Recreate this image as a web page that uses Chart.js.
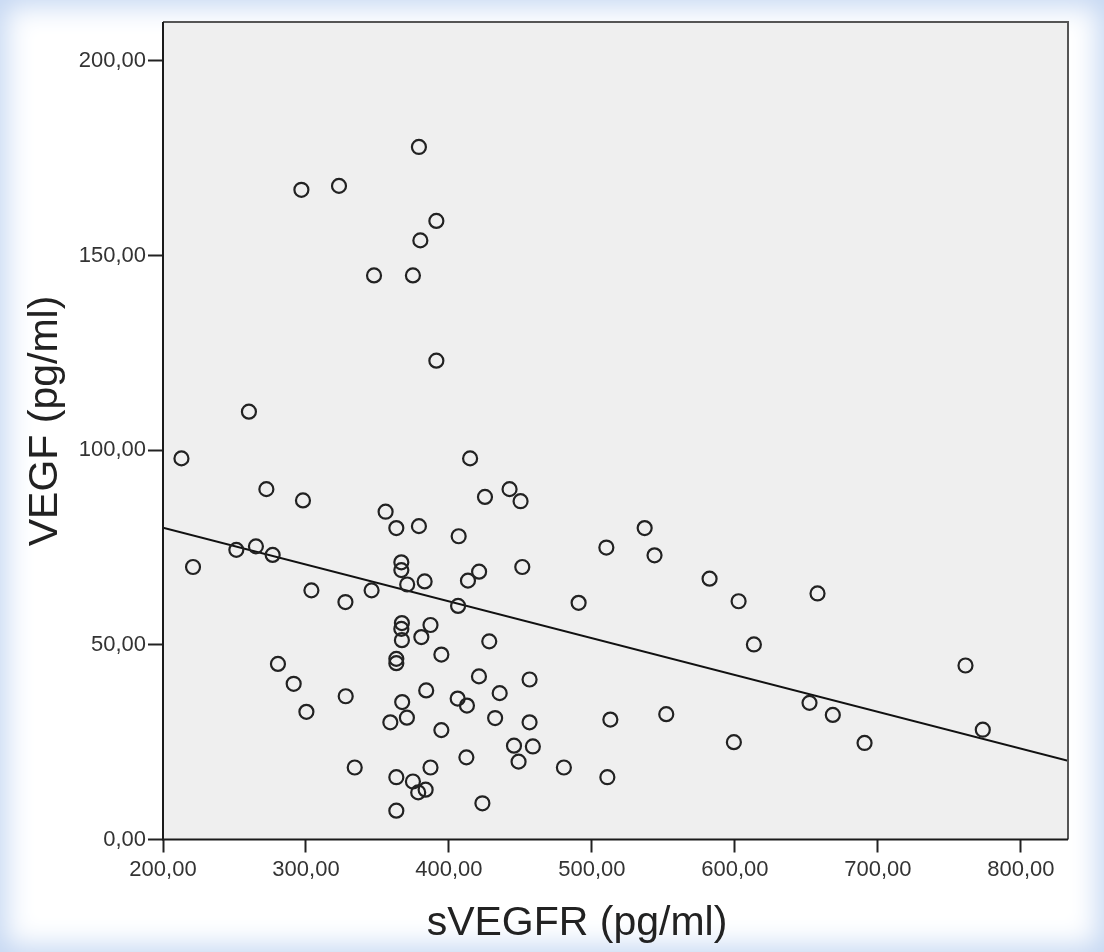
<!DOCTYPE html>
<html>
<head>
<meta charset="utf-8">
<title>sVEGFR vs VEGF</title>
<script src="https://cdn.jsdelivr.net/npm/chart.js@4.4.1/dist/chart.umd.min.js"></script>
<style>
    html, body {
        margin: 0;
        padding: 0;
        background: #ffffff;
    }
    .frame {
        position: relative;
        width: 1104px;
        height: 952px;
        background: #ffffff;
        box-shadow: inset 0 0 28px 6px #c3d6f2;
    }
    #scatterChart {
        position: absolute;
        left: 0;
        top: 0;
    }
</style>
</head>
<body>
<div class="frame">
    <canvas id="scatterChart" width="1104" height="952"></canvas>
</div>
<script>
// sVEGFR (x) and VEGF (y) per subject, pg/ml
const svegfr = [
    379.0, 296.8, 323.1, 391.2, 380.0, 347.6, 374.8, 391.2, 260.1, 212.9,
    414.8, 272.3, 297.9, 425.2, 442.4, 450.1, 355.7, 363.2, 379.0, 406.8,
    536.9, 510.1, 543.8, 251.3, 265.0, 276.7, 221.0, 366.7, 366.7, 370.8,
    383.0, 421.1, 413.3, 451.3, 303.8, 327.6, 345.9, 406.4, 490.7, 582.3,
    602.6, 657.8, 613.3, 367.1, 366.7, 367.1, 387.1, 380.7, 428.2, 394.7,
    363.2, 363.2, 280.4, 291.4, 327.8, 300.3, 421.0, 456.4, 384.1, 435.5,
    367.3, 406.1, 412.6, 370.6, 359.0, 432.3, 456.4, 512.9, 552.0, 652.2,
    668.5, 394.7, 599.3, 445.5, 458.7, 448.7, 412.2, 387.1, 480.4, 510.8,
    363.2, 374.8, 378.5, 383.7, 423.4, 363.2, 761.3, 773.4, 690.7, 334.1
];
const vegf = [
    177.9, 166.9, 167.9, 158.9, 153.9, 144.9, 144.9, 123.0, 109.9, 97.9,
    97.9, 90.0, 87.1, 88.0, 90.0, 86.9, 84.2, 80.0, 80.5, 77.9,
    80.0, 75.0, 73.0, 74.4, 75.3, 73.1, 70.0, 71.2, 69.2, 65.5,
    66.3, 68.8, 66.5, 70.0, 64.0, 61.0, 64.0, 60.0, 60.8, 67.0,
    61.2, 63.2, 50.1, 55.6, 54.1, 51.2, 55.1, 52.0, 50.9, 47.5,
    46.4, 45.3, 45.1, 40.0, 36.8, 32.8, 41.9, 41.1, 38.3, 37.6,
    35.3, 36.2, 34.4, 31.3, 30.1, 31.2, 30.1, 30.8, 32.2, 35.1,
    32.0, 28.1, 25.0, 24.1, 23.9, 20.0, 21.1, 18.5, 18.5, 16.0,
    16.0, 14.9, 12.1, 12.8, 9.3, 7.4, 44.7, 28.2, 24.8, 18.5
];

// linear fit line, end points
const fitX = [200, 833];
const fitY = [80.1, 20.2];

// axis ticks
const xTicks = [200, 300, 400, 500, 600, 700, 800];
const yTicks = [0, 50, 100, 150, 200];

const xTitle = 'sVEGFR (pg/ml)';
const yTitle = 'VEGF (pg/ml)';

const FONT = '"Liberation Sans", Arial, sans-serif';

function fmt(v) {
    return v.toFixed(2).replace('.', ',');
}

// grey plot background + dark frame round the chart area
const plotFrame = {
    id: 'plotFrame',
    beforeDatasetsDraw(chart) {
        const { ctx, chartArea: a } = chart;
        ctx.save();
        ctx.fillStyle = '#efefef';
        ctx.fillRect(a.left, a.top, a.right - a.left, a.bottom - a.top);
        ctx.restore();
    },
    afterDatasetsDraw(chart) {
        const { ctx, chartArea: a } = chart;
        ctx.save();
        ctx.lineWidth = 2;
        ctx.strokeStyle = '#555';
        ctx.beginPath();
        ctx.moveTo(a.left, a.top);
        ctx.lineTo(a.right, a.top);
        ctx.lineTo(a.right, a.bottom);
        ctx.stroke();
        ctx.strokeStyle = '#1a1a1a';
        ctx.beginPath();
        ctx.moveTo(a.left, a.top);
        ctx.lineTo(a.left, a.bottom);
        ctx.lineTo(a.right, a.bottom);
        ctx.stroke();
        ctx.restore();
    }
};

// axis titles, placed a bit off-centre like the SPSS output
const axisTitles = {
    id: 'axisTitles',
    afterDraw(chart) {
        const { ctx } = chart;
        ctx.save();
        ctx.fillStyle = '#222';
        ctx.font = '41px ' + FONT;
        ctx.textAlign = 'center';
        ctx.textBaseline = 'middle';
        ctx.fillText(xTitle, 577, 924);
        ctx.translate(46, 421);
        ctx.rotate(-Math.PI / 2);
        ctx.fillText(yTitle, 0, 0);
        ctx.restore();
    }
};

document.addEventListener('DOMContentLoaded', function() {
    const points = svegfr.map((x, i) => ({ x: x, y: vegf[i] }));
    const fitLine = fitX.map((x, i) => ({ x: x, y: fitY[i] }));

    const ctx = document.getElementById('scatterChart').getContext('2d');
    new Chart(ctx, {
        type: 'scatter',
        data: {
            datasets: [{
                label: 'VEGF',
                data: points,
                pointStyle: 'circle',
                pointRadius: 7,
                pointBorderWidth: 2.2,
                pointBorderColor: '#222',
                pointBackgroundColor: 'rgba(0,0,0,0)',
                showLine: false
            },
            {
                label: 'Fit',
                type: 'line',
                data: fitLine,
                borderColor: '#111',
                borderWidth: 2,
                pointRadius: 0,
                fill: false,
                tension: 0
            }]
        },
        options: {
            responsive: false,
            animation: false,
            devicePixelRatio: 1,
            layout: {
                padding: { top: 22, right: 36, bottom: 0, left: 0 }
            },
            plugins: {
                legend: { display: false },
                tooltip: { enabled: false }
            },
            scales: {
                x: {
                    type: 'linear',
                    min: 200,
                    max: 833,
                    afterBuildTicks: s => { s.ticks = xTicks.map(v => ({ value: v })); },
                    afterFit: s => { s.height = 112.5; },
                    border: { display: false },
                    grid: {
                        drawOnChartArea: false,
                        drawTicks: true,
                        tickLength: 13,
                        tickWidth: 2,
                        tickColor: '#222'
                    },
                    ticks: {
                        padding: 4,
                        color: '#333',
                        font: { family: FONT, size: 22 },
                        maxRotation: 0,
                        callback: v => fmt(v)
                    }
                },
                y: {
                    type: 'linear',
                    min: 0,
                    max: 210,
                    afterBuildTicks: s => { s.ticks = yTicks.map(v => ({ value: v })); },
                    afterFit: s => { s.width = 163; },
                    border: { display: false },
                    grid: {
                        drawOnChartArea: false,
                        drawTicks: true,
                        tickLength: 15,
                        tickWidth: 2,
                        tickColor: '#222'
                    },
                    ticks: {
                        padding: 2,
                        color: '#333',
                        font: { family: FONT, size: 22 },
                        callback: v => fmt(v)
                    }
                }
            }
        },
        plugins: [plotFrame, axisTitles]
    });
});
</script>
</body>
</html>
